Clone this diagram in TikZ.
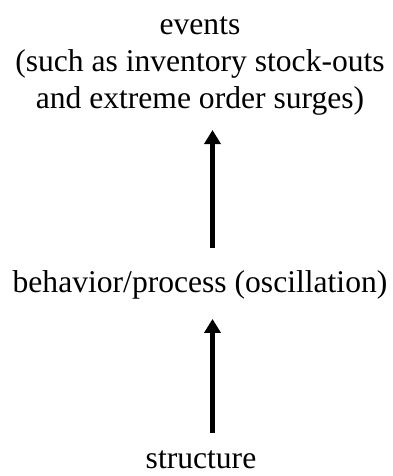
\documentclass[tikz,border=0pt]{standalone}
\usepackage{fontspec}
\setmainfont{Liberation Serif}
\usetikzlibrary{arrows.meta}
\begin{document}
\begin{tikzpicture}[x=1pt,y=1pt,
  label text/.style={font=\fontsize{31.6}{37}\selectfont, align=center, inner sep=0pt},
  up arrow/.style={line width=4.5pt, -{Triangle[width=16pt,length=14pt]}}]
  \useasboundingbox (0,0) rectangle (392,-476);
  % the three levels, top to bottom (base = baseline of the last line)
  \node[label text, anchor=base] (events) at (200,-109)
    {events\\(such as inventory stock-outs\\and extreme order surges)};
  \node[label text, anchor=base] (behav) at (200,-292) {behavior/process (oscillation)};
  \node[label text, anchor=base] (struct) at (201,-468) {structure};
  % x position of the two arrows
  \coordinate (ax) at (212.5,0);
  \draw[up arrow, shorten <=22pt, shorten >=14pt] (behav.north -| ax) -- (events.south -| ax);
  \draw[up arrow, shorten <=17pt, shorten >=20pt] (struct.north -| ax) -- (behav.south -| ax);
\end{tikzpicture}
\end{document}
